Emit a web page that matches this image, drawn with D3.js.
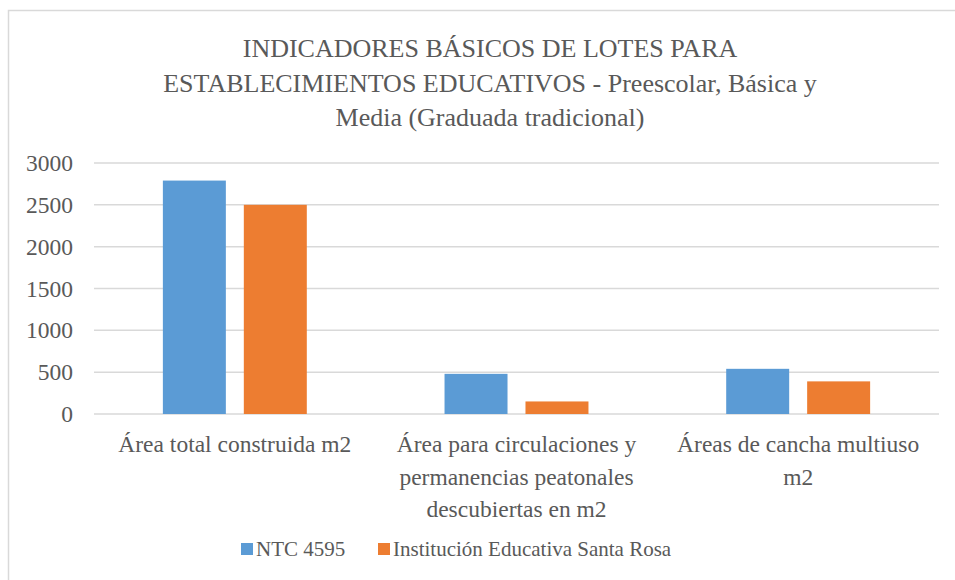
<!DOCTYPE html>
<html>
<head>
<meta charset="utf-8">
<script src="https://cdn.jsdelivr.net/npm/d3@7"></script>
</head>
<body style="margin:0">
<div id="chart"></div>
<script>
// data
const categories = ["Área total construida m2",
                    "Área para circulaciones y permanencias peatonales descubiertas en m2",
                    "Áreas de cancha multiuso m2"];
const categoryLines = [["Área total construida m2"],
                       ["Área para circulaciones y", "permanencias peatonales", "descubiertas en m2"],
                       ["Áreas de cancha multiuso", "m2"]];
const seriesNames = ["NTC 4595", "Institución Educativa Santa Rosa"];
const ntcValues = [2790, 480, 540];
const santaRosaValues = [2500, 150, 390];
const yTicks = [0, 500, 1000, 1500, 2000, 2500, 3000];
const titleLines = ["INDICADORES BÁSICOS DE LOTES PARA",
                    "ESTABLECIMIENTOS EDUCATIVOS - Preescolar, Básica y",
                    "Media (Graduada tradicional)"];
const colors = ["#5b9bd5", "#ed7d31"];

const W = 955, H = 580;
const margin = {top: 163, right: 16, bottom: 166, left: 94};
const FONT = "Liberation Serif";
const INK = "#595959";

const svg = d3.select("#chart").append("svg")
    .attr("width", W)
    .attr("height", H);

// outer chart border
svg.append("rect")
    .attr("x", 8.5).attr("y", 10.5)
    .attr("width", W + 10).attr("height", H + 10)
    .attr("fill", "none")
    .attr("stroke", "#d9d9d9")
    .attr("stroke-width", 1.5);

// title
titleLines.forEach((line, i) => {
  svg.append("text")
      .attr("x", 490)
      .attr("y", 57 + i * 34.5)
      .attr("text-anchor", "middle")
      .style("font-family", FONT)
      .style("font-size", "26px")
      .style("fill", INK)
      .text(line);
});

const x0 = d3.scaleBand()
    .domain(categories)
    .range([margin.left, W - margin.right])
    .paddingInner(0.489)
    .paddingOuter(0.2445);

const x1 = d3.scaleBand()
    .domain(seriesNames)
    .range([0, x0.bandwidth()])
    .paddingInner(0.222);

const y = d3.scaleLinear()
    .domain([0, 3000])
    .range([H - margin.bottom, margin.top]);

// gridlines
svg.append("g")
    .selectAll("line")
    .data(yTicks)
    .enter().append("line")
    .attr("x1", margin.left)
    .attr("x2", W - margin.right)
    .attr("y1", d => y(d))
    .attr("y2", d => y(d))
    .attr("stroke", "#d9d9d9")
    .attr("stroke-width", 1.5);

// y axis labels
const yAxis = svg.append("g")
    .attr("transform", "translate(" + margin.left + ",0)")
    .call(d3.axisLeft(y).tickValues(yTicks).tickFormat(d3.format("d")).tickSize(0).tickPadding(21));
yAxis.select(".domain").remove();
yAxis.attr("font-family", FONT).attr("font-size", null);
yAxis.selectAll("text")
    .style("font-family", FONT)
    .style("font-size", "23.5px")
    .style("fill", INK);

// bars
const groups = svg.append("g")
    .selectAll("g")
    .data(categories)
    .enter().append("g")
    .attr("transform", d => "translate(" + x0(d) + ",0)");

groups.selectAll("rect")
    .data((d, i) => [
      {name: seriesNames[0], value: ntcValues[i]},
      {name: seriesNames[1], value: santaRosaValues[i]}
    ])
    .enter().append("rect")
    .attr("x", d => x1(d.name))
    .attr("y", d => y(d.value))
    .attr("width", x1.bandwidth())
    .attr("height", d => y(0) - y(d.value))
    .attr("fill", (d, i) => colors[i]);

// category labels, one text per line
categories.forEach((c, i) => {
  categoryLines[i].forEach((line, j) => {
    svg.append("text")
        .attr("x", x0(c) + x0.bandwidth() / 2)
        .attr("y", 452 + j * 32.5)
        .attr("text-anchor", "middle")
        .style("font-family", FONT)
        .style("font-size", "23.5px")
        .style("fill", INK)
        .text(line);
  });
});

// legend
const legendX = [241, 378];
seriesNames.forEach((name, i) => {
  svg.append("rect")
      .attr("x", legendX[i]).attr("y", 543)
      .attr("width", 12).attr("height", 12)
      .attr("fill", colors[i]);
  svg.append("text")
      .attr("x", legendX[i] + 15).attr("y", 556)
      .style("font-family", FONT)
      .style("font-size", "21px")
      .style("fill", INK)
      .text(name);
});
</script>
</body>
</html>
